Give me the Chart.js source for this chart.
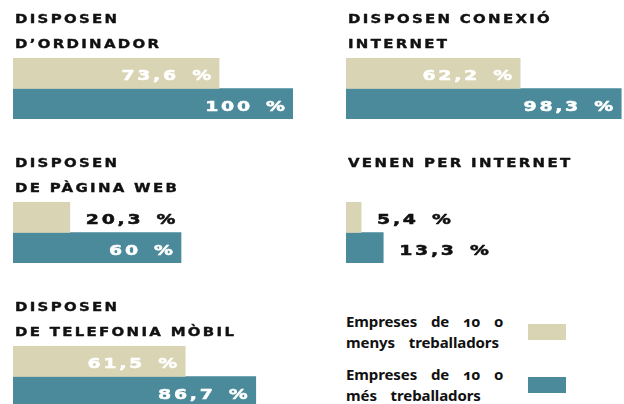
<!DOCTYPE html>
<html>
<head>
<meta charset="utf-8">
<script src="https://cdn.jsdelivr.net/npm/chart.js@4.4.1/dist/chart.umd.min.js"></script>
<style>
  html, body { margin: 0; padding: 0; background: #fff; }
  body { width: 624px; height: 404px; overflow: hidden; position: relative; }
  .panel { position: absolute; }
  .legend-item { position: absolute; left: 346px; font: bold 15px "Noto Sans", sans-serif; line-height: 21px;
    word-spacing: 10px; color: #111; font-variant-numeric: oldstyle-nums; letter-spacing: -0.1px; }
  .swatch { position: absolute; left: 528px; width: 38px; height: 16px; }
</style>
</head>
<body>
<script>
const titles = [
  ["DISPOSEN", "D’ORDINADOR"],
  ["DISPOSEN CONEXIÓ", "INTERNET"],
  ["DISPOSEN", "DE PÀGINA WEB"],
  ["VENEN PER INTERNET"],
  ["DISPOSEN", "DE TELEFONIA MÒBIL"]
];
const smallFirms = [73.6, 62.2, 20.3, 5.4, 61.5];
const largeFirms = [100, 98.3, 60, 13.3, 86.7];
const seriesNames = [
  ["Empreses de 10 o", "menys treballadors"],
  ["Empreses de 10 o", "més treballadors"]
];
const colors = ["#d9d4b4", "#4a8a9b"];

// where each small chart sits on the page
const spots = [[13, 0], [346, 0], [13, 144], [346, 144], [13, 288]];

const fmt = v => (Number.isInteger(v) ? String(v) : v.toFixed(1).replace(".", ",")) + " %";

// text styles: size, horizontal stretch, letter spacing, word spacing, extra weight
const titleStyle = { size: 13, sx: 1.15, ls: 2, ws: 0, bold: 0.4 };
const valueStyle = { size: 14, sx: 1.35, ls: 2, ws: 3, bold: 0.5 };

function setFont(ctx, st) {
  ctx.font = "bold " + st.size + "px 'DejaVu Sans'";
  ctx.letterSpacing = st.ls + "px";
  ctx.wordSpacing = st.ws + "px";
}

// wide, letter-spaced caps like the original display face
function wideText(ctx, text, x, y, st, color) {
  ctx.save();
  setFont(ctx, st);
  ctx.fillStyle = color;
  ctx.strokeStyle = color;
  ctx.lineWidth = st.bold;
  ctx.lineJoin = "round";
  ctx.textAlign = "left";
  ctx.textBaseline = "alphabetic";
  ctx.translate(x, y);
  ctx.scale(st.sx, 1);
  ctx.fillText(text, 0, 0);
  if (st.bold > 0) ctx.strokeText(text, 0, 0);
  ctx.restore();
}

function textWidth(ctx, text, st) {
  ctx.save();
  setFont(ctx, st);
  const w = (ctx.measureText(text).width - st.ls) * st.sx;
  ctx.restore();
  return w;
}

const panelText = {
  id: "panelText",
  afterDatasetsDraw(chart, args, opts) {
    const ctx = chart.ctx;
    const top = chart.chartArea.top;
    opts.lines.forEach((line, i) => {
      wideText(ctx, line, chart.chartArea.left + 2, top - 35.5 + 25 * i, titleStyle, "#111");
    });
    chart.data.datasets.forEach((ds, di) => {
      chart.getDatasetMeta(di).data.forEach((bar, j) => {
        const txt = fmt(ds.data[j]);
        const w = textWidth(ctx, txt, valueStyle);
        const barW = bar.x - bar.base;
        const y = bar.y + 7;
        if (w + 16 <= barW) {
          wideText(ctx, txt, bar.x - 8 - w, y, valueStyle, "#fff");
        } else {
          wideText(ctx, txt, bar.x + 16, y, valueStyle, "#111");
        }
      });
    });
  }
};

titles.forEach((lines, i) => {
  const div = document.createElement("div");
  div.className = "panel";
  div.style.left = spots[i][0] + "px";
  div.style.top = spots[i][1] + "px";
  const canvas = document.createElement("canvas");
  canvas.width = 300;
  canvas.height = 122;
  div.appendChild(canvas);
  document.body.appendChild(div);

  new Chart(canvas, {
    type: "bar",
    data: {
      labels: [lines.join(" ")],
      datasets: [
        { label: seriesNames[0].join(" "), data: [smallFirms[i]], backgroundColor: colors[0] },
        { label: seriesNames[1].join(" "), data: [largeFirms[i]], backgroundColor: colors[1] }
      ]
    },
    options: {
      indexAxis: "y",
      responsive: false,
      animation: false,
      events: [],
      layout: { padding: { top: 58, bottom: 3, left: 0, right: 20 } },
      datasets: { bar: { categoryPercentage: 1, barPercentage: 1, borderWidth: 0 } },
      scales: {
        x: { display: false, min: 0, max: 100 },
        y: { display: false }
      },
      plugins: {
        legend: { display: false },
        tooltip: { enabled: false },
        panelText: { lines: lines }
      }
    },
    plugins: [panelText]
  });
});

// legend with the two company sizes
const legendTops = [311, 364];
seriesNames.forEach((name, i) => {
  const item = document.createElement("div");
  item.className = "legend-item";
  item.style.top = legendTops[i] + "px";
  item.innerHTML = name.join("<br>");
  document.body.appendChild(item);
  const sw = document.createElement("div");
  sw.className = "swatch";
  sw.style.top = (legendTops[i] + 13) + "px";
  sw.style.background = colors[i];
  document.body.appendChild(sw);
});
</script>
</body>
</html>
